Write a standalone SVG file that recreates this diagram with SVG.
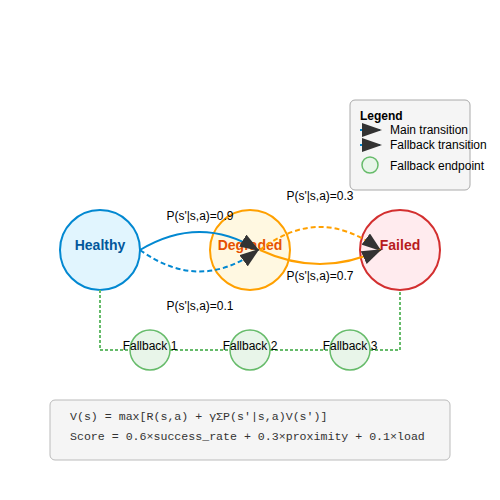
<svg xmlns="http://www.w3.org/2000/svg" width="500" height="500" viewBox="0 0 500 500">
<style>
text{font-family:"Liberation Sans",Arial,sans-serif;}
.lbl{font-size:12px;fill:#000;text-anchor:middle;}
.nlbl{font-size:14px;font-weight:bold;text-anchor:middle;}
.fb{fill:#e8f5e9;stroke:#66bb6a;stroke-width:1.5;}
.fbt{font-size:12px;fill:#000;text-anchor:middle;}
.leg{font-size:12px;fill:#000;}
.mono{font-family:"Liberation Mono","Courier New",monospace;font-size:11.6px;fill:#333;}
.blue{fill:none;stroke:#0288d1;stroke-width:2;}
.orange{fill:none;stroke:#ffa000;stroke-width:2;}
.dash{stroke-dasharray:5,3;}
.green{fill:none;stroke:#66bb6a;stroke-width:2;stroke-dasharray:3,2;}
</style>
<defs>
<marker id="arrow" markerWidth="10" markerHeight="7" refX="9" refY="3.5" orient="auto">
<path d="M0,0 L10,3.5 L0,7 z" fill="#333"/>
</marker>
</defs>
<rect width="500" height="500" fill="#ffffff"/>
<g id="legend">
<rect x="350" y="100" width="120" height="90" rx="5" fill="#f5f5f5" stroke="#aaaaaa" stroke-width="1"/>
<text x="360" y="120" class="leg" font-weight="bold">Legend</text>
<line x1="360" y1="130" x2="380" y2="130" class="blue" marker-end="url(#arrow)"/>
<text x="390" y="134" class="leg">Main transition</text>
<line x1="360" y1="145" x2="380" y2="145" class="blue dash" marker-end="url(#arrow)"/>
<text x="390" y="149" class="leg">Fallback transition</text>
<circle cx="370" cy="165" r="8" class="fb"/>
<text x="390" y="170" class="leg">Fallback endpoint</text>
</g>
<g id="healthy">
<circle cx="100" cy="250" r="40" fill="#e1f5fe" stroke="#0288d1" stroke-width="2"/>
<text x="100" y="250" class="nlbl" fill="#01579b">Healthy</text>
</g>
<g id="degraded">
<circle cx="250" cy="250" r="40" fill="#fff8e1" stroke="#ffa000" stroke-width="2"/>
<text x="250" y="250" class="nlbl" fill="#e65100">Degraded</text>
</g>
<g id="failed">
<circle cx="400" cy="250" r="40" fill="#ffebee" stroke="#d32f2f" stroke-width="2"/>
<text x="400" y="250" class="nlbl" fill="#b71c1c">Failed</text>
</g>
<g id="connectors">
<path d="M140,250 Q200,214 258,250" class="blue" marker-end="url(#arrow)"/>
<path d="M140,250 Q200,293 258,250" class="blue dash" marker-end="url(#arrow)"/>
<path d="M260,250 Q320,204 380,250" class="orange dash" marker-end="url(#arrow)"/>
<path d="M260,250 Q320,278 380,250" class="orange" marker-end="url(#arrow)"/>
<path d="M100,290 L100,350 L400,350 L400,290" class="green"/>
<text x="200" y="220" class="lbl">P(s'|s,a)=0.9</text>
<text x="200" y="310" class="lbl">P(s'|s,a)=0.1</text>
<text x="320" y="200" class="lbl">P(s'|s,a)=0.3</text>
<text x="320" y="280" class="lbl">P(s'|s,a)=0.7</text>
</g>
<g id="fallback1">
<circle cx="150" cy="350" r="20" class="fb"/>
<text x="150" y="350" class="fbt">Fallback 1</text>
</g>
<g id="fallback2">
<circle cx="250" cy="350" r="20" class="fb"/>
<text x="250" y="350" class="fbt">Fallback 2</text>
</g>
<g id="fallback3">
<circle cx="350" cy="350" r="20" class="fb"/>
<text x="350" y="350" class="fbt">Fallback 3</text>
</g>
<g id="formula">
<rect x="50" y="400" width="400" height="60" rx="5" fill="#f5f5f5" stroke="#bbbbbb" stroke-width="1"/>
<text x="70" y="420" class="mono">V(s) = max[R(s,a) + γΣP(s'|s,a)V(s')]</text>
<text x="70" y="440" class="mono">Score = 0.6×success_rate + 0.3×proximity + 0.1×load</text>
</g>
</svg>
